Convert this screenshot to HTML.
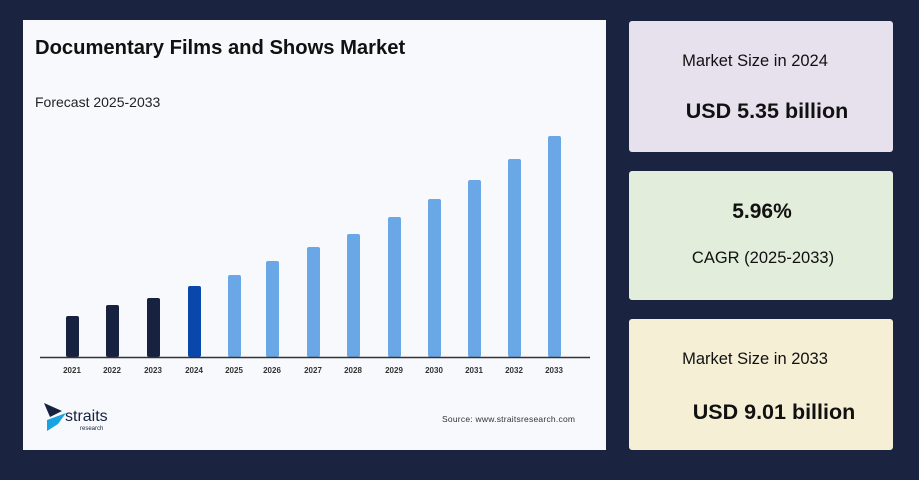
<!DOCTYPE html>
<html><head><style>
body{margin:0;width:919px;height:480px;background:#1a2340;position:relative;overflow:hidden;font-family:"Liberation Sans",sans-serif}
.panel{position:absolute;left:23px;top:20px;width:583px;height:430px;background:#f8f9fd}
.card{position:absolute;left:629px;width:264px;border-radius:3px;color:#111}
.t{position:absolute;white-space:nowrap;transform:translateX(-50%)}
</style></head><body>
<div class="panel"></div>
<div style="position:absolute;left:35px;top:37px;font-size:20.2px;font-weight:bold;color:#111;white-space:nowrap">Documentary Films and Shows Market</div>
<div style="position:absolute;left:35px;top:94px;font-size:14px;color:#222">Forecast 2025-2033</div>
<svg style="position:absolute;left:0;top:0" width="919" height="480">
<g>
<rect x="66" y="316" width="13" height="41" rx="2" fill="#172240"/>
<rect x="106" y="305" width="13" height="52" rx="2" fill="#172240"/>
<rect x="147" y="298" width="13" height="59" rx="2" fill="#172240"/>
<rect x="188" y="286" width="13" height="71" rx="2" fill="#0a47ad"/>
<rect x="228" y="275" width="13" height="82" rx="2" fill="#6aa7e6"/>
<rect x="266" y="261" width="13" height="96" rx="2" fill="#6aa7e6"/>
<rect x="307" y="247" width="13" height="110" rx="2" fill="#6aa7e6"/>
<rect x="347" y="234" width="13" height="123" rx="2" fill="#6aa7e6"/>
<rect x="388" y="217" width="13" height="140" rx="2" fill="#6aa7e6"/>
<rect x="428" y="199" width="13" height="158" rx="2" fill="#6aa7e6"/>
<rect x="468" y="180" width="13" height="177" rx="2" fill="#6aa7e6"/>
<rect x="508" y="159" width="13" height="198" rx="2" fill="#6aa7e6"/>
<rect x="548" y="136" width="13" height="221" rx="2" fill="#6aa7e6"/>
</g>
<line x1="40" y1="357.5" x2="590" y2="357.5" stroke="#333" stroke-width="1.5"/>
<g font-size="8" font-weight="bold" fill="#333" text-anchor="middle">
<text x="72" y="373">2021</text><text x="112" y="373">2022</text><text x="153" y="373">2023</text><text x="194" y="373">2024</text><text x="234" y="373">2025</text><text x="272" y="373">2026</text><text x="313" y="373">2027</text><text x="353" y="373">2028</text><text x="394" y="373">2029</text><text x="434" y="373">2030</text><text x="474" y="373">2031</text><text x="514" y="373">2032</text><text x="554" y="373">2033</text>
</g>
<polygon points="44,403 62,411 50,417" fill="#172240"/>
<polygon points="47,420 66,413 58,424 47,431" fill="#1aa3e0"/>
<text x="65" y="421" font-size="16" fill="#172240">straits</text>
<text x="80" y="430" font-size="6" fill="#172240">research</text>
<text x="442" y="422" font-size="8.5" fill="#333" textLength="133">Source: www.straitsresearch.com</text>
</svg>
<div class="card" style="top:21px;height:131px;background:#e6e1ed">
<div class="t" style="left:126px;top:31px;font-size:16.5px">Market Size in 2024</div>
<div class="t" style="left:138px;top:78px;font-size:21.5px;font-weight:bold">USD 5.35 billion</div></div>
<div class="card" style="top:171px;height:129px;background:#e2eddb">
<div class="t" style="left:133px;top:29px;font-size:21px;font-weight:bold">5.96%</div>
<div class="t" style="left:134px;top:78px;font-size:16.5px">CAGR (2025-2033)</div></div>
<div class="card" style="top:319px;height:131px;background:#f5efd6">
<div class="t" style="left:126px;top:31px;font-size:16.5px">Market Size in 2033</div>
<div class="t" style="left:145px;top:81px;font-size:21.5px;font-weight:bold">USD 9.01 billion</div></div>
</body></html>
